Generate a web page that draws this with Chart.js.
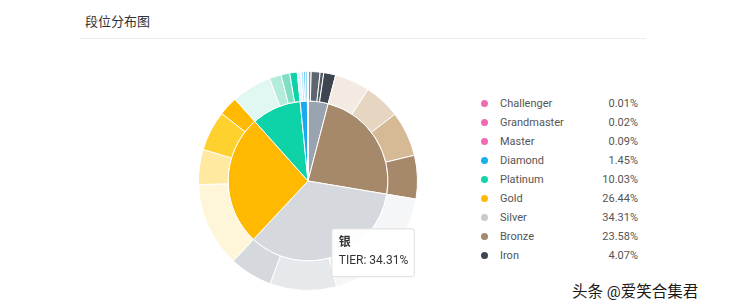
<!DOCTYPE html>
<html>
<head>
<meta charset="utf-8">
<script src="https://cdn.jsdelivr.net/npm/chart.js@4/dist/chart.umd.min.js"></script>
<style>
  body { margin: 0; background: #fff; font-family: Roboto, "Noto Sans CJK SC", sans-serif; }
  #wrap { position: relative; width: 737px; height: 308px; overflow: hidden; }
  #title { position: absolute; left: 85px; top: 11px; font-size: 13px; color: #333; }
  #rule { position: absolute; left: 80px; top: 38px; width: 566px; height: 1px; background: #eee; }
  #pie { position: absolute; left: 198px; top: 71px; width: 220px; height: 220px; }
  #legend { position: absolute; left: 479px; top: 94px; width: 160px; font-size: 11px; color: #555; }
  .row { position: relative; height: 19px; line-height: 19px; }
  .dot { position: absolute; left: 2px; top: 6px; width: 7px; height: 7px; border-radius: 50%; }
  .lbl { position: absolute; left: 21px; }
  .pct { position: absolute; right: 1px; }
  #mark { position: absolute; left: 572px; top: 279px; font-size: 15.5px; color: #1a1a1a;
          text-shadow: 0 0 2px #fff, 1px 1px 0 #fff; }
</style>
</head>
<body>
<div id="wrap">
  <div id="title">段位分布图</div>
  <div id="rule"></div>
  <div id="pie"><canvas id="tierChart"></canvas></div>
  <div id="legend"></div>
  <div id="mark">头条 @爱笑合集君</div>
</div>
<script>
// tiers, clockwise from 12 o'clock
const tierLabels = ['Iron', 'Bronze', 'Silver', 'Gold', 'Platinum', 'Diamond', 'Master', 'Grandmaster', 'Challenger'];
const tierNames = ['铁', '铜', '银', '金', '铂金', '钻石', '大师', '宗师', '王者'];
const tierValues = [4.07, 23.58, 34.31, 26.44, 10.03, 1.45, 0.09, 0.02, 0.01];
const tierColors = ['#9aa4b0', '#a6886a', '#d5d9dd', '#ffb900', '#0ed3a8', '#1aaaf0', '#f06bb2', '#f06bb2', '#f06bb2'];
const legendColors = ['#3f4753', '#a58a6b', '#c8cacd', '#ffb900', '#10d4a8', '#17b2ea', '#f06bb2', '#f06bb2', '#f06bb2'];

// divisions (outer ring), same order
const divisionLabels = [
  'Iron IV', 'Iron III', 'Iron II', 'Iron I',
  'Bronze IV', 'Bronze III', 'Bronze II', 'Bronze I',
  'Silver III', 'Silver II', 'Silver I',
  'Gold IV', 'Gold III', 'Gold II', 'Gold I',
  'Platinum IV', 'Platinum III', 'Platinum II', 'Platinum I',
  'Diamond IV', 'Diamond III', 'Diamond II', 'Diamond I',
  'Master', 'Grandmaster', 'Challenger'
];
const divisionValues = [
  0.47, 1.31, 0.53, 1.76,
  5.18, 5.33, 6.64, 6.43,
  18.14, 9.83, 6.34,
  12.50, 5.19, 5.92, 2.83,
  5.89, 1.75, 1.28, 1.11,
  0.55, 0.35, 0.30, 0.25,
  0.09, 0.02, 0.01
];
const divisionColors = [
  '#8a939e', '#5d6670', '#4f5863', '#3d4551',
  '#f3ebe1', '#e6d5c0', '#d6b995', '#a6886a',
  '#f5f6f8', '#e6e9ec', '#d5d9dd',
  '#fff6d9', '#ffe8a0', '#ffd12e', '#ffb900',
  '#e0f8f1', '#b4ecdc', '#80dec5', '#0ed3a8',
  '#e3f5fd', '#b3e4fa', '#6fcdf5', '#1aaaf0',
  '#fbd3e8', '#f7a8d2', '#f06bb2'
];

// legend, highest tier first
const legendDiv = document.getElementById('legend');
let html = '';
for (let i = tierLabels.length - 1; i >= 0; i--) {
  html += `<div class="row"><span class="dot" style="background:${legendColors[i]}"></span>` +
    `<span class="lbl">${tierLabels[i]}</span><span class="pct">${tierValues[i].toFixed(2)}%</span></div>`;
}
legendDiv.innerHTML = html;

Chart.Tooltip.positioners.offsetPoint = function(elements) {
  if (!elements.length) return false;
  const p = elements[0].element.tooltipPosition();
  return { x: p.x + 13, y: p.y + 10 };
};

const ctx = document.getElementById('tierChart');
const chart = new Chart(ctx, {
  type: 'pie',
  data: {
    labels: divisionLabels,
    datasets: [
      {
        label: 'DIVISION',
        data: divisionValues,
        backgroundColor: divisionColors,
        hoverBackgroundColor: divisionColors,
        borderColor: '#fff',
        borderWidth: 1,
        hoverBorderWidth: 1,
        hoverOffset: 0,
        weight: 0.27
      },
      {
        label: 'TIER',
        labels: tierNames,
        data: tierValues,
        backgroundColor: tierColors,
        hoverBackgroundColor: tierColors,
        borderColor: '#fff',
        borderWidth: 1,
        hoverBorderWidth: 1,
        hoverOffset: 0,
        weight: 0.73
      }
    ]
  },
  options: {
    responsive: true,
    maintainAspectRatio: false,
    animation: false,
    events: [],
    layout: { padding: 0 },
    plugins: {
      legend: { display: false },
      tooltip: {
        position: 'offsetPoint',
        xAlign: 'left',
        yAlign: 'top',
        caretSize: 0,
        caretPadding: 0,
        cornerRadius: 2,
        backgroundColor: 'rgba(255,255,255,0.95)',
        borderColor: '#ddd',
        borderWidth: 1,
        titleColor: '#333',
        bodyColor: '#333',
        titleFont: { family: 'Roboto, "Noto Sans CJK SC", sans-serif', size: 12, weight: 'bold' },
        bodyFont: { family: 'Roboto, "Noto Sans CJK SC", sans-serif', size: 12 },
        titleMarginBottom: 4,
        padding: { left: 7, right: 6, top: 7, bottom: 8 },
        displayColors: false,
        callbacks: {
          title: items => items[0].dataset.labels ? items[0].dataset.labels[items[0].dataIndex] : items[0].label,
          label: item => `${item.dataset.label}: ${item.raw.toFixed(2)}%`
        }
      }
    }
  }
});

// show the silver tooltip as in the reference
const silverArc = chart.getDatasetMeta(1).data[2];
chart.tooltip.setActiveElements([{ datasetIndex: 1, index: 2 }], silverArc.tooltipPosition());
chart.update();
</script>
</body>
</html>
